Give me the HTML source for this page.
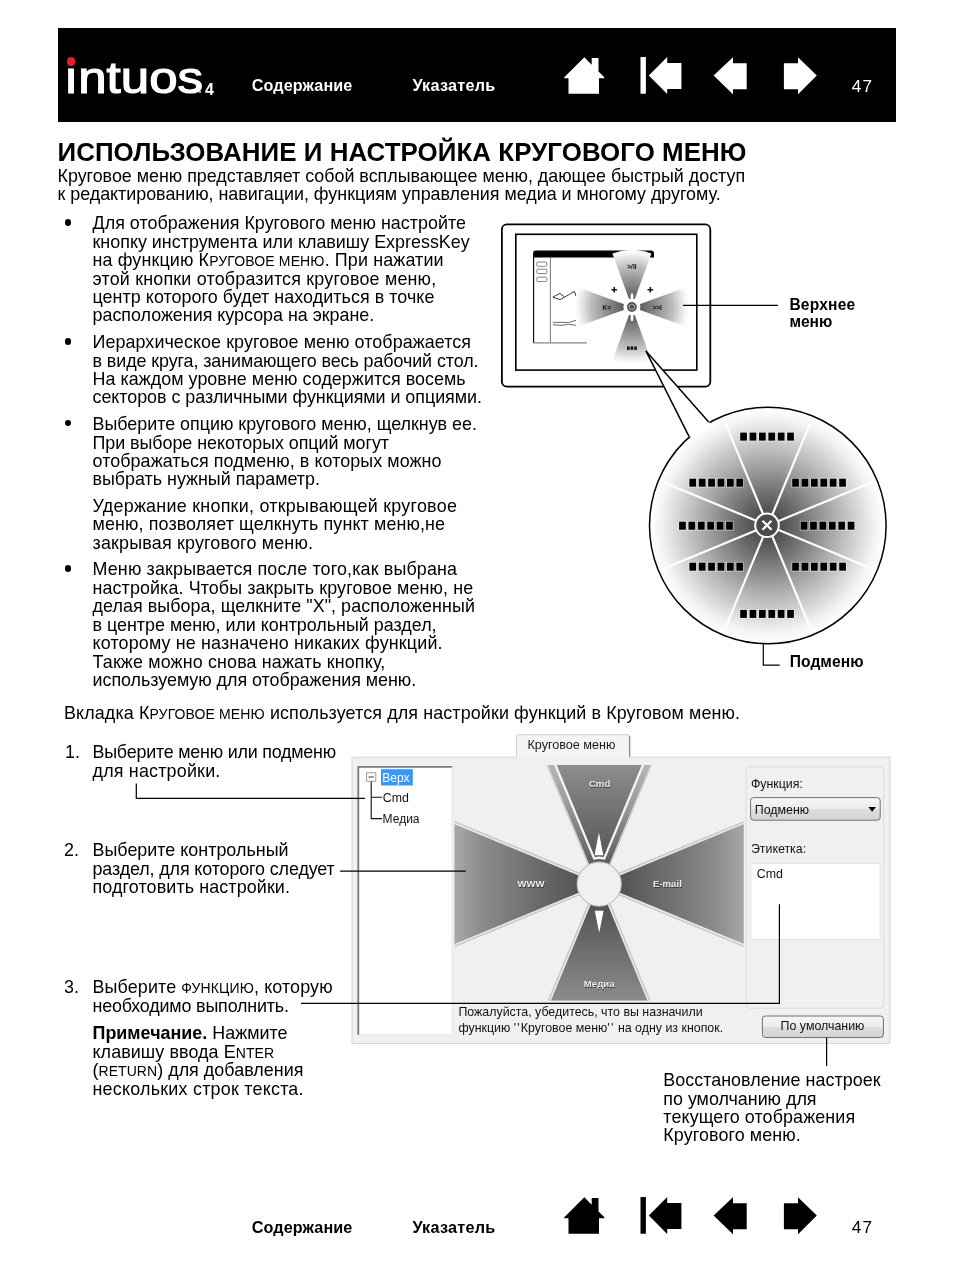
<!DOCTYPE html>
<html><head><meta charset="utf-8">
<style>
html,body{margin:0;padding:0;background:#fff;}
body{width:955px;height:1272px;position:relative;overflow:hidden;font-family:"Liberation Sans",sans-serif;color:#000;}
.t{position:absolute;white-space:nowrap;}
</style></head><body>
<div style="position:absolute;left:0;top:0;width:955px;height:1272px;will-change:transform">
<div style="position:absolute;left:57.5px;top:28px;width:838.5px;height:94px;background:#000"></div>
<svg style="position:absolute;left:0;top:0px;overflow:visible" width="955" height="1"><path fill="#fff" d="M584.3,57.3 L591.7,64.7 L591.7,58.1 L598.5,58.1 L598.5,71.5 L604.3,77.3 L604.3,78.3 L599,78.3 L599,93.7 L568.5,93.7 L568.5,78.3 L564.3,78.3 L564.3,77.3 Z"/><path fill="#fff" d="M640.5,57 h5.4 v36.7 h-5.4 Z M648.8,75.5 L667.2,57 L667.2,62.9 L681.4,62.9 L681.4,88.9 L667.2,88.9 L667.2,94 Z"/><path fill="#fff" d="M713.6,75.6 L733,57.2 L733,63.2 L746.7,63.2 L746.7,89.2 L733,89.2 L733,94.3 Z"/><path fill="#fff" d="M816.8,75.6 L798,57.2 L798,63.2 L783.9,63.2 L783.9,89.2 L798,89.2 L798,94.3 Z"/></svg>
<svg style="position:absolute;left:0;top:1140px;overflow:visible" width="955" height="1"><path fill="#000" d="M584.3,57.3 L591.7,64.7 L591.7,58.1 L598.5,58.1 L598.5,71.5 L604.3,77.3 L604.3,78.3 L599,78.3 L599,93.7 L568.5,93.7 L568.5,78.3 L564.3,78.3 L564.3,77.3 Z"/><path fill="#000" d="M640.5,57 h5.4 v36.7 h-5.4 Z M648.8,75.5 L667.2,57 L667.2,62.9 L681.4,62.9 L681.4,88.9 L667.2,88.9 L667.2,94 Z"/><path fill="#000" d="M713.6,75.6 L733,57.2 L733,63.2 L746.7,63.2 L746.7,89.2 L733,89.2 L733,94.3 Z"/><path fill="#000" d="M816.8,75.6 L798,57.2 L798,63.2 L783.9,63.2 L783.9,89.2 L798,89.2 L798,94.3 Z"/></svg>
<div style="position:absolute;left:66.7px;top:56.9px;width:8.8px;height:8.8px;border-radius:50%;background:#ed1c2a"></div>
<div class="t" style="left:64px;top:48px;font-size:45px;line-height:60px;color:#fff;-webkit-text-stroke:1.2px #fff;transform:scaleX(1.135);transform-origin:0 0">&#305;ntuos</div>
<div style="position:absolute;left:199.2px;top:91.3px;width:2.2px;height:2.2px;background:#bbb"></div>
<div class="t" style="left:205.1px;top:82px;font-size:16px;line-height:16px;font-weight:bold;color:#fff;">4</div>
<div class="t" style="left:251.7px;top:77px;font-size:16.2px;line-height:16.2px;font-weight:bold;letter-spacing:0.100px;color:#fff;">Содержание</div>
<div class="t" style="left:412.4px;top:77px;font-size:16.2px;line-height:16.2px;font-weight:bold;letter-spacing:0.250px;color:#fff;">Указатель</div>
<div class="t" style="left:851.7px;top:78px;font-size:17.2px;line-height:17.2px;letter-spacing:1.300px;color:#fff;">47</div>
<div class="t" style="left:251.7px;top:1219px;font-size:16.2px;line-height:16.2px;font-weight:bold;letter-spacing:0.100px;">Содержание</div>
<div class="t" style="left:412.4px;top:1219px;font-size:16.2px;line-height:16.2px;font-weight:bold;letter-spacing:0.250px;">Указатель</div>
<div class="t" style="left:851.7px;top:1219px;font-size:17.2px;line-height:17.2px;letter-spacing:1.300px;">47</div>
<div class="t" style="left:57.5px;top:140px;font-size:25.9px;line-height:25.9px;font-weight:bold;letter-spacing:0.062px;">ИСПОЛЬЗОВАНИЕ И НАСТРОЙКА КРУГОВОГО МЕНЮ</div>
<div class="t" style="left:57.5px;top:168px;font-size:17.9px;line-height:17.9px;letter-spacing:-0.017px;">Круговое меню представляет собой всплывающее меню, дающее быстрый доступ</div>
<div class="t" style="left:57.5px;top:186px;font-size:17.9px;line-height:17.9px;letter-spacing:-0.018px;">к редактированию, навигации, функциям управления медиа и многому другому.</div>
<div style="position:absolute;left:64.7px;top:219.1px;width:6.6px;height:6.6px;border-radius:50%;background:#000"></div>
<div class="t" style="left:92.5px;top:215px;font-size:17.9px;line-height:17.9px;letter-spacing:0.036px;">Для отображения Кругового меню настройте</div>
<div class="t" style="left:92.5px;top:234px;font-size:17.9px;line-height:17.9px;letter-spacing:0.008px;">кнопку инструмента или клавишу ExpressKey</div>
<div class="t" style="left:92.5px;top:252px;font-size:17.9px;line-height:17.9px;letter-spacing:0.136px;">на функцию К<span style="font-size:14.0px">РУГОВОЕ МЕНЮ</span>. При нажатии</div>
<div class="t" style="left:92.5px;top:271px;font-size:17.9px;line-height:17.9px;letter-spacing:0.200px;">этой кнопки отобразится круговое меню,</div>
<div class="t" style="left:92.5px;top:289px;font-size:17.9px;line-height:17.9px;letter-spacing:0.058px;">центр которого будет находиться в точке</div>
<div class="t" style="left:92.5px;top:307px;font-size:17.9px;line-height:17.9px;letter-spacing:-0.010px;">расположения курсора на экране.</div>
<div style="position:absolute;left:64.7px;top:338.09999999999997px;width:6.6px;height:6.6px;border-radius:50%;background:#000"></div>
<div class="t" style="left:92.5px;top:334px;font-size:17.9px;line-height:17.9px;letter-spacing:0.082px;">Иерархическое круговое меню отображается</div>
<div class="t" style="left:92.5px;top:353px;font-size:17.9px;line-height:17.9px;letter-spacing:-0.081px;">в виде круга, занимающего весь рабочий стол.</div>
<div class="t" style="left:92.5px;top:371px;font-size:17.9px;line-height:17.9px;letter-spacing:0.045px;">На каждом уровне меню содержится восемь</div>
<div class="t" style="left:92.5px;top:389px;font-size:17.9px;line-height:17.9px;letter-spacing:-0.032px;">секторов с различными функциями и опциями.</div>
<div style="position:absolute;left:64.7px;top:419.7px;width:6.6px;height:6.6px;border-radius:50%;background:#000"></div>
<div class="t" style="left:92.5px;top:416px;font-size:17.9px;line-height:17.9px;letter-spacing:-0.005px;">Выберите опцию кругового меню, щелкнув ее.</div>
<div class="t" style="left:92.5px;top:435px;font-size:17.9px;line-height:17.9px;letter-spacing:-0.048px;">При выборе некоторых опций могут</div>
<div class="t" style="left:92.5px;top:453px;font-size:17.9px;line-height:17.9px;letter-spacing:0.081px;">отображаться подменю, в которых можно</div>
<div class="t" style="left:92.5px;top:471px;font-size:17.9px;line-height:17.9px;letter-spacing:-0.009px;">выбрать нужный параметр.</div>
<div class="t" style="left:92.5px;top:498px;font-size:17.9px;line-height:17.9px;letter-spacing:0.268px;">Удержание кнопки, открывающей круговое</div>
<div class="t" style="left:92.5px;top:516px;font-size:17.9px;line-height:17.9px;letter-spacing:0.119px;">меню, позволяет щелкнуть пункт меню,не</div>
<div class="t" style="left:92.5px;top:535px;font-size:17.9px;line-height:17.9px;letter-spacing:0.191px;">закрывая кругового меню.</div>
<div style="position:absolute;left:64.7px;top:565.2px;width:6.6px;height:6.6px;border-radius:50%;background:#000"></div>
<div class="t" style="left:92.5px;top:561px;font-size:17.9px;line-height:17.9px;letter-spacing:0.158px;">Меню закрывается после того,как выбрана</div>
<div class="t" style="left:92.5px;top:580px;font-size:17.9px;line-height:17.9px;letter-spacing:0.105px;">настройка. Чтобы закрыть круговое меню, не</div>
<div class="t" style="left:92.5px;top:598px;font-size:17.9px;line-height:17.9px;letter-spacing:0.067px;">делая выбора, щелкните "X", расположенный</div>
<div class="t" style="left:92.5px;top:617px;font-size:17.9px;line-height:17.9px;">в центре меню, или контрольный раздел,</div>
<div class="t" style="left:92.5px;top:635px;font-size:17.9px;line-height:17.9px;letter-spacing:0.159px;">которому не назначено никаких функций.</div>
<div class="t" style="left:92.5px;top:654px;font-size:17.9px;line-height:17.9px;letter-spacing:0.152px;">Также можно снова нажать кнопку,</div>
<div class="t" style="left:92.5px;top:672px;font-size:17.9px;line-height:17.9px;letter-spacing:-0.027px;">используемую для отображения меню.</div>
<div class="t" style="left:64px;top:705px;font-size:17.9px;line-height:17.9px;letter-spacing:0.124px;">Вкладка К<span style="font-size:14.0px">РУГОВОЕ МЕНЮ</span> используется для настройки функций в Круговом меню.</div>
<div class="t" style="left:65px;top:744px;font-size:17.9px;line-height:17.9px;">1.</div>
<div class="t" style="left:92.5px;top:744px;font-size:17.9px;line-height:17.9px;letter-spacing:-0.213px;">Выберите меню или подменю</div>
<div class="t" style="left:92.5px;top:763px;font-size:17.9px;line-height:17.9px;letter-spacing:0.200px;">для настройки.</div>
<div class="t" style="left:64.1px;top:842px;font-size:17.9px;line-height:17.9px;">2.</div>
<div class="t" style="left:92.5px;top:842px;font-size:17.9px;line-height:17.9px;letter-spacing:0.016px;">Выберите контрольный</div>
<div class="t" style="left:92.5px;top:861px;font-size:17.9px;line-height:17.9px;letter-spacing:-0.115px;">раздел, для которого следует</div>
<div class="t" style="left:92.5px;top:879px;font-size:17.9px;line-height:17.9px;letter-spacing:0.119px;">подготовить настройки.</div>
<div class="t" style="left:64px;top:979px;font-size:17.9px;line-height:17.9px;">3.</div>
<div class="t" style="left:92.5px;top:979px;font-size:17.9px;line-height:17.9px;letter-spacing:0.129px;">Выберите <span style="font-size:14.0px">ФУНКЦИЮ</span>, которую</div>
<div class="t" style="left:92.5px;top:998px;font-size:17.9px;line-height:17.9px;letter-spacing:-0.165px;">необходимо выполнить.</div>
<div class="t" style="left:92.5px;top:1025px;font-size:17.9px;line-height:17.9px;letter-spacing:0.022px;"><b>Примечание.</b> Нажмите</div>
<div class="t" style="left:92.5px;top:1044px;font-size:17.9px;line-height:17.9px;letter-spacing:0.089px;">клавишу ввода E<span style="font-size:14.0px">NTER</span></div>
<div class="t" style="left:92.5px;top:1062px;font-size:17.9px;line-height:17.9px;letter-spacing:0.045px;">(<span style="font-size:14.0px">RETURN</span>) для добавления</div>
<div class="t" style="left:92.5px;top:1081px;font-size:17.9px;line-height:17.9px;letter-spacing:0.239px;">нескольких строк текста.</div>
<div class="t" style="left:789.4px;top:297px;font-size:15.6px;line-height:15.6px;font-weight:bold;letter-spacing:0.200px;">Верхнее</div>
<div class="t" style="left:789.4px;top:314px;font-size:15.6px;line-height:15.6px;font-weight:bold;">меню</div>
<div class="t" style="left:789.7px;top:654px;font-size:15.6px;line-height:15.6px;font-weight:bold;letter-spacing:0.083px;">Подменю</div>
<div class="t" style="left:663.3px;top:1072px;font-size:17.9px;line-height:17.9px;letter-spacing:0.032px;">Восстановление настроек</div>
<div class="t" style="left:663.3px;top:1091px;font-size:17.9px;line-height:17.9px;letter-spacing:-0.007px;">по умолчанию для</div>
<div class="t" style="left:663.3px;top:1109px;font-size:17.9px;line-height:17.9px;letter-spacing:0.121px;">текущего отображения</div>
<div class="t" style="left:663.3px;top:1127px;font-size:17.9px;line-height:17.9px;letter-spacing:0.100px;">Кругового меню.</div>

<svg style="position:absolute;left:0;top:0" width="955" height="1272" viewBox="0 0 955 1272">
<defs>
  <radialGradient id="bigGrad" cx="767.8" cy="525.5" r="118" gradientUnits="userSpaceOnUse">
    <stop offset="0" stop-color="#3a3a3a"/>
    <stop offset="0.25" stop-color="#6a6a6a"/>
    <stop offset="0.6" stop-color="#b4b4b4"/>
    <stop offset="0.9" stop-color="#f2f2f2"/>
    <stop offset="1" stop-color="#ffffff"/>
  </radialGradient>
  <radialGradient id="miniGrad" cx="631.9" cy="307" r="58" gradientUnits="userSpaceOnUse">
    <stop offset="0" stop-color="#444"/>
    <stop offset="0.2" stop-color="#666"/>
    <stop offset="0.7" stop-color="#bdbdbd"/>
    <stop offset="0.92" stop-color="#f4f4f4"/>
    <stop offset="1" stop-color="#fff"/>
  </radialGradient>
  <linearGradient id="wTop" x1="0" y1="765" x2="0" y2="862" gradientUnits="userSpaceOnUse">
    <stop offset="0" stop-color="#8e8e8e"/><stop offset="1" stop-color="#555"/>
  </linearGradient>
  <linearGradient id="wBot" x1="0" y1="1001" x2="0" y2="906" gradientUnits="userSpaceOnUse">
    <stop offset="0" stop-color="#8e8e8e"/><stop offset="1" stop-color="#555"/>
  </linearGradient>
  <linearGradient id="wLeft" x1="454" y1="0" x2="577" y2="0" gradientUnits="userSpaceOnUse">
    <stop offset="0" stop-color="#a8a8a8"/><stop offset="1" stop-color="#555"/>
  </linearGradient>
  <linearGradient id="wRight" x1="744" y1="0" x2="621" y2="0" gradientUnits="userSpaceOnUse">
    <stop offset="0" stop-color="#a8a8a8"/><stop offset="1" stop-color="#555"/>
  </linearGradient>
  <linearGradient id="btnGrad" x1="0" y1="0" x2="0" y2="1">
    <stop offset="0" stop-color="#f6f6f6"/><stop offset="0.5" stop-color="#ececec"/><stop offset="0.51" stop-color="#dedede"/><stop offset="1" stop-color="#d4d4d4"/>
  </linearGradient>
  <clipPath id="starClip"><rect x="454.5" y="765" width="289.2" height="235.5"/></clipPath>
  <clipPath id="screenClip"><rect x="516.5" y="235" width="180" height="134"/></clipPath>
</defs>

<!-- ===== monitor ===== -->
<rect x="501.9" y="224.4" width="208.4" height="162.2" rx="5" ry="5" fill="#fff" stroke="#000" stroke-width="1.8"/>
<rect x="515.8" y="234.3" width="181" height="135.8" fill="#fff" stroke="#000" stroke-width="1.6"/>
<g clip-path="url(#screenClip)">
  <!-- window -->
  <path d="M533.1,257.6 L533.1,253 Q533.1,250.4 535.6,250.4 L651,250.4 Q654,250.4 654,253.3 L654,257.6 Z" fill="#000"/>
  <line x1="533.6" y1="257" x2="533.6" y2="343" stroke="#000" stroke-width="1.1"/>
  <line x1="550.4" y1="257" x2="550.4" y2="343" stroke="#777" stroke-width="1"/>
  <line x1="533.6" y1="342.8" x2="587" y2="342.8" stroke="#888" stroke-width="1.3"/>
  <rect x="536.8" y="262" width="10" height="4.3" rx="1" fill="none" stroke="#777" stroke-width="0.9"/>
  <rect x="536.8" y="269.2" width="10" height="4.3" rx="1" fill="none" stroke="#777" stroke-width="0.9"/>
  <rect x="536.8" y="277.2" width="10" height="4.3" rx="1" fill="none" stroke="#777" stroke-width="0.9"/>
  <polyline points="552.9,297 560,293.4 564.5,297.2 570.4,293.7 574.4,291.5 576,296" fill="none" stroke="#222" stroke-width="0.9"/>
  <polyline points="552.9,297.2 560,299.6 564.5,297.2" fill="none" stroke="#222" stroke-width="0.9"/>
  <polyline points="552.9,322.3 568.5,322.5 576,320.4" fill="none" stroke="#444" stroke-width="0.8"/>
  <polyline points="552.9,324.8 562.8,325.3 568.5,324.2 576,325.3" fill="none" stroke="#444" stroke-width="0.8"/>
  <!-- mini radial wedges (sector radius 57, ±20deg) -->
  <g fill="url(#miniGrad)">
    <path d="M631.9,307 L612.4,253.4 A57,57 0 0 1 651.4,253.4 Z"/>
    <path d="M631.9,307 L612.4,360.6 A57,57 0 0 0 651.4,360.6 Z"/>
    <path d="M631.9,307 L578.3,287.5 A57,57 0 0 0 578.3,326.5 Z"/>
    <path d="M631.9,307 L685.5,287.5 A57,57 0 0 1 685.5,326.5 Z"/>
  </g>
  <circle cx="631.9" cy="307" r="8.5" fill="#fff"/>
  <circle cx="631.9" cy="307" r="4.9" fill="#555"/>
  <circle cx="631.9" cy="307" r="2.8" fill="none" stroke="#bbb" stroke-width="0.8"/>
  <ellipse cx="632" cy="296.8" rx="1.4" ry="3.6" fill="#fff"/>
  <ellipse cx="632" cy="317.4" rx="1.4" ry="3.6" fill="#fff"/>
  <text x="631.9" y="268.5" font-family="Liberation Sans" font-size="6.5" font-weight="bold" text-anchor="middle" fill="#111">&gt;/II</text>
  <text x="606.8" y="310" font-family="Liberation Sans" font-size="6.5" font-weight="bold" text-anchor="middle" fill="#111">K&lt;</text>
  <text x="657.1" y="310" font-family="Liberation Sans" font-size="6.5" font-weight="bold" text-anchor="middle" fill="#111">&gt;&gt;I</text>
  <rect x="627" y="346.5" width="2.6" height="3.4" fill="#111"/><rect x="630.6" y="346.5" width="2.6" height="3.4" fill="#111"/><rect x="634.2" y="346.5" width="2.6" height="3.4" fill="#111"/>
  <path d="M611.4,289.7 h5.6 M614.2,286.9 v5.6" stroke="#111" stroke-width="1.5"/>
  <path d="M647.5,289.7 h5.6 M650.3,286.9 v5.6" stroke="#111" stroke-width="1.5"/>
</g>
<!-- leader Верхнее меню -->
<line x1="683" y1="305.3" x2="778" y2="305.3" stroke="#000" stroke-width="1.2"/>

<!-- ===== big circle ===== -->
<circle cx="767.8" cy="525.5" r="118.3" fill="url(#bigGrad)" stroke="#000" stroke-width="1.5"/>
<!-- tail -->
<path d="M689,436.3 L645.9,350.9 L708.7,422 L712,424.5 L704,430 L694,438 Z" fill="#fff"/>
<polyline points="689,436.3 645.9,350.9 708.7,422" fill="none" stroke="#000" stroke-width="1.5"/>
<!-- spokes -->
<g stroke="#fff" stroke-width="2.1" stroke-linecap="round">
  <line x1="767.8" y1="525.5" x2="810.3" y2="422.9"/>
  <line x1="767.8" y1="525.5" x2="870.4" y2="483.0"/>
  <line x1="767.8" y1="525.5" x2="870.4" y2="568.0"/>
  <line x1="767.8" y1="525.5" x2="810.3" y2="628.1"/>
  <line x1="767.8" y1="525.5" x2="725.3" y2="628.1"/>
  <line x1="767.8" y1="525.5" x2="665.2" y2="568.0"/>
  <line x1="767.8" y1="525.5" x2="665.2" y2="483.0"/>
  <line x1="767.8" y1="525.5" x2="725.3" y2="422.9"/>
</g>
<circle cx="767" cy="525.3" r="11.8" fill="#4a4a4a" stroke="#fff" stroke-width="2"/>
<path d="M762.5,520.8 L771.5,529.8 M771.5,520.8 L762.5,529.8" stroke="#fff" stroke-width="2.2"/>
<!-- squares -->
<g fill="#000" id="sq">
<rect x="739.30" y="431.70" width="8.4" height="9.8" fill="#fff" opacity="0.45"/><rect x="740.20" y="432.60" width="6.7" height="8.0"/><rect x="748.70" y="431.70" width="8.4" height="9.8" fill="#fff" opacity="0.45"/><rect x="749.60" y="432.60" width="6.7" height="8.0"/><rect x="758.10" y="431.70" width="8.4" height="9.8" fill="#fff" opacity="0.45"/><rect x="759.00" y="432.60" width="6.7" height="8.0"/><rect x="767.50" y="431.70" width="8.4" height="9.8" fill="#fff" opacity="0.45"/><rect x="768.40" y="432.60" width="6.7" height="8.0"/><rect x="776.90" y="431.70" width="8.4" height="9.8" fill="#fff" opacity="0.45"/><rect x="777.80" y="432.60" width="6.7" height="8.0"/><rect x="786.30" y="431.70" width="8.4" height="9.8" fill="#fff" opacity="0.45"/><rect x="787.20" y="432.60" width="6.7" height="8.0"/><rect x="688.50" y="477.80" width="8.4" height="9.8" fill="#fff" opacity="0.45"/><rect x="689.40" y="478.70" width="6.7" height="8.0"/><rect x="697.90" y="477.80" width="8.4" height="9.8" fill="#fff" opacity="0.45"/><rect x="698.80" y="478.70" width="6.7" height="8.0"/><rect x="707.30" y="477.80" width="8.4" height="9.8" fill="#fff" opacity="0.45"/><rect x="708.20" y="478.70" width="6.7" height="8.0"/><rect x="716.70" y="477.80" width="8.4" height="9.8" fill="#fff" opacity="0.45"/><rect x="717.60" y="478.70" width="6.7" height="8.0"/><rect x="726.10" y="477.80" width="8.4" height="9.8" fill="#fff" opacity="0.45"/><rect x="727.00" y="478.70" width="6.7" height="8.0"/><rect x="735.50" y="477.80" width="8.4" height="9.8" fill="#fff" opacity="0.45"/><rect x="736.40" y="478.70" width="6.7" height="8.0"/><rect x="791.30" y="477.80" width="8.4" height="9.8" fill="#fff" opacity="0.45"/><rect x="792.20" y="478.70" width="6.7" height="8.0"/><rect x="800.70" y="477.80" width="8.4" height="9.8" fill="#fff" opacity="0.45"/><rect x="801.60" y="478.70" width="6.7" height="8.0"/><rect x="810.10" y="477.80" width="8.4" height="9.8" fill="#fff" opacity="0.45"/><rect x="811.00" y="478.70" width="6.7" height="8.0"/><rect x="819.50" y="477.80" width="8.4" height="9.8" fill="#fff" opacity="0.45"/><rect x="820.40" y="478.70" width="6.7" height="8.0"/><rect x="828.90" y="477.80" width="8.4" height="9.8" fill="#fff" opacity="0.45"/><rect x="829.80" y="478.70" width="6.7" height="8.0"/><rect x="838.30" y="477.80" width="8.4" height="9.8" fill="#fff" opacity="0.45"/><rect x="839.20" y="478.70" width="6.7" height="8.0"/><rect x="678.20" y="520.80" width="8.4" height="9.8" fill="#fff" opacity="0.45"/><rect x="679.10" y="521.70" width="6.7" height="8.0"/><rect x="687.60" y="520.80" width="8.4" height="9.8" fill="#fff" opacity="0.45"/><rect x="688.50" y="521.70" width="6.7" height="8.0"/><rect x="697.00" y="520.80" width="8.4" height="9.8" fill="#fff" opacity="0.45"/><rect x="697.90" y="521.70" width="6.7" height="8.0"/><rect x="706.40" y="520.80" width="8.4" height="9.8" fill="#fff" opacity="0.45"/><rect x="707.30" y="521.70" width="6.7" height="8.0"/><rect x="715.80" y="520.80" width="8.4" height="9.8" fill="#fff" opacity="0.45"/><rect x="716.70" y="521.70" width="6.7" height="8.0"/><rect x="725.20" y="520.80" width="8.4" height="9.8" fill="#fff" opacity="0.45"/><rect x="726.10" y="521.70" width="6.7" height="8.0"/><rect x="799.80" y="520.80" width="8.4" height="9.8" fill="#fff" opacity="0.45"/><rect x="800.70" y="521.70" width="6.7" height="8.0"/><rect x="809.20" y="520.80" width="8.4" height="9.8" fill="#fff" opacity="0.45"/><rect x="810.10" y="521.70" width="6.7" height="8.0"/><rect x="818.60" y="520.80" width="8.4" height="9.8" fill="#fff" opacity="0.45"/><rect x="819.50" y="521.70" width="6.7" height="8.0"/><rect x="828.00" y="520.80" width="8.4" height="9.8" fill="#fff" opacity="0.45"/><rect x="828.90" y="521.70" width="6.7" height="8.0"/><rect x="837.40" y="520.80" width="8.4" height="9.8" fill="#fff" opacity="0.45"/><rect x="838.30" y="521.70" width="6.7" height="8.0"/><rect x="846.80" y="520.80" width="8.4" height="9.8" fill="#fff" opacity="0.45"/><rect x="847.70" y="521.70" width="6.7" height="8.0"/><rect x="688.50" y="561.80" width="8.4" height="9.8" fill="#fff" opacity="0.45"/><rect x="689.40" y="562.70" width="6.7" height="8.0"/><rect x="697.90" y="561.80" width="8.4" height="9.8" fill="#fff" opacity="0.45"/><rect x="698.80" y="562.70" width="6.7" height="8.0"/><rect x="707.30" y="561.80" width="8.4" height="9.8" fill="#fff" opacity="0.45"/><rect x="708.20" y="562.70" width="6.7" height="8.0"/><rect x="716.70" y="561.80" width="8.4" height="9.8" fill="#fff" opacity="0.45"/><rect x="717.60" y="562.70" width="6.7" height="8.0"/><rect x="726.10" y="561.80" width="8.4" height="9.8" fill="#fff" opacity="0.45"/><rect x="727.00" y="562.70" width="6.7" height="8.0"/><rect x="735.50" y="561.80" width="8.4" height="9.8" fill="#fff" opacity="0.45"/><rect x="736.40" y="562.70" width="6.7" height="8.0"/><rect x="791.30" y="561.80" width="8.4" height="9.8" fill="#fff" opacity="0.45"/><rect x="792.20" y="562.70" width="6.7" height="8.0"/><rect x="800.70" y="561.80" width="8.4" height="9.8" fill="#fff" opacity="0.45"/><rect x="801.60" y="562.70" width="6.7" height="8.0"/><rect x="810.10" y="561.80" width="8.4" height="9.8" fill="#fff" opacity="0.45"/><rect x="811.00" y="562.70" width="6.7" height="8.0"/><rect x="819.50" y="561.80" width="8.4" height="9.8" fill="#fff" opacity="0.45"/><rect x="820.40" y="562.70" width="6.7" height="8.0"/><rect x="828.90" y="561.80" width="8.4" height="9.8" fill="#fff" opacity="0.45"/><rect x="829.80" y="562.70" width="6.7" height="8.0"/><rect x="838.30" y="561.80" width="8.4" height="9.8" fill="#fff" opacity="0.45"/><rect x="839.20" y="562.70" width="6.7" height="8.0"/><rect x="739.30" y="609.00" width="8.4" height="9.8" fill="#fff" opacity="0.45"/><rect x="740.20" y="609.90" width="6.7" height="8.0"/><rect x="748.70" y="609.00" width="8.4" height="9.8" fill="#fff" opacity="0.45"/><rect x="749.60" y="609.90" width="6.7" height="8.0"/><rect x="758.10" y="609.00" width="8.4" height="9.8" fill="#fff" opacity="0.45"/><rect x="759.00" y="609.90" width="6.7" height="8.0"/><rect x="767.50" y="609.00" width="8.4" height="9.8" fill="#fff" opacity="0.45"/><rect x="768.40" y="609.90" width="6.7" height="8.0"/><rect x="776.90" y="609.00" width="8.4" height="9.8" fill="#fff" opacity="0.45"/><rect x="777.80" y="609.90" width="6.7" height="8.0"/><rect x="786.30" y="609.00" width="8.4" height="9.8" fill="#fff" opacity="0.45"/><rect x="787.20" y="609.90" width="6.7" height="8.0"/>
</g>
<!-- leader Подменю -->
<polyline points="763.3,644 763.3,665.2 779.7,665.2" fill="none" stroke="#000" stroke-width="1.2"/>

<!-- ===== dialog ===== -->
<path d="M516.5,757.5 L516.5,736 Q516.5,734.7 518,734.7 L628.5,734.7 Q629.6,734.7 629.6,736 L629.6,757.5" fill="#f4f4f4" stroke="#d0d0d0" stroke-width="1"/>
<line x1="629.6" y1="736" x2="629.6" y2="757.5" stroke="#8a8a8a" stroke-width="1.3"/>
<rect x="352" y="757.2" width="538" height="286.2" fill="#f0f0f0" stroke="#d4d4d4" stroke-width="1"/>
<rect x="516.8" y="756" width="112.3" height="3" fill="#f0f0f0"/>
<text x="527.5" y="748.6" font-family="Liberation Sans" font-size="12.6" fill="#1a1a1a">Круговое меню</text>
<!-- tree box -->
<rect x="358.1" y="766.2" width="94.5" height="268.8" fill="#fff"/>
<path d="M358.3,1035 L358.3,766.8 L452.4,766.8" fill="none" stroke="#7a7a7a" stroke-width="1.8"/>
<path d="M452.2,767 L452.2,1035 L358.5,1035" fill="none" stroke="#e3e3e3" stroke-width="1"/>
<rect x="366.6" y="772.8" width="9.2" height="8.5" fill="#fff" stroke="#9a9a9a" stroke-width="1"/>
<line x1="368.6" y1="777" x2="373.8" y2="777" stroke="#333" stroke-width="1"/>
<rect x="381" y="769.2" width="31.8" height="16.3" fill="#3399ff"/>
<text x="382.3" y="782" font-family="Liberation Sans" font-size="12" fill="#fff">Верх</text>
<path d="M371.2,781.5 L371.2,818.6 L382,818.6 M371.2,797.2 L382,797.2" fill="none" stroke="#111" stroke-width="1.1"/>
<text x="382.8" y="801.6" font-family="Liberation Sans" font-size="12.4" fill="#111">Cmd</text>
<text x="382.6" y="822.5" font-family="Liberation Sans" font-size="12" fill="#111">Медиа</text>
<!-- star -->
<defs>
  <linearGradient id="sgBand" x1="0" y1="862.1" x2="0" y2="759.1" gradientUnits="userSpaceOnUse">
    <stop offset="0" stop-color="#5e5e5e"/><stop offset="0.55" stop-color="#999"/><stop offset="1" stop-color="#bababa"/>
  </linearGradient>
  <linearGradient id="sgFill" x1="0" y1="862.1" x2="0" y2="739.1" gradientUnits="userSpaceOnUse">
    <stop offset="0" stop-color="#545454"/><stop offset="0.78" stop-color="#8c8c8c"/><stop offset="1" stop-color="#a8a8a8"/>
  </linearGradient>
  <g id="wedgeB">
    <path d="M588.47,866.05 L525.54,714.10 L672.86,714.10 L609.93,866.05 A21,21 0 0 0 588.47,866.05 Z" fill="#c8c8c8"/>
    <path d="M589.80,865.32 L527.16,714.10 L671.24,714.10 L608.60,865.32 A21,21 0 0 0 589.80,865.32 Z" fill="#ebebeb"/>
    <path d="M591.16,864.70 L528.78,714.10 L669.62,714.10 L607.24,864.70 A21,21 0 0 0 591.16,864.70 Z" fill="url(#sgFill)"/>
  </g>
  <g id="wedgeT">
    <path d="M588.30,866.15 L525.32,714.10 L673.08,714.10 L610.10,866.15 A21,21 0 0 0 588.30,866.15 Z" fill="#cdcdcd"/>
    <path d="M589.71,865.37 L527.05,714.10 L671.35,714.10 L608.69,865.37 A21,21 0 0 0 589.71,865.37 Z" fill="url(#sgBand)"/>
    <path d="M593.45,859.77 L533.11,714.10 L665.29,714.10 L604.95,859.77 A25,25 0 0 0 593.45,859.77 Z" fill="#f4f4f4"/>
    <path d="M594.78,856.96 L535.60,714.10 L662.80,714.10 L603.62,856.96 A27.5,27.5 0 0 0 594.78,856.96 Z" fill="url(#sgFill)"/>
  </g>
</defs>
<g clip-path="url(#starClip)">
  <use href="#wedgeT"/>
  <use href="#wedgeB" transform="rotate(180 599.2 884.1)"/>
  <use href="#wedgeB" transform="rotate(-90 599.2 884.1)"/>
  <use href="#wedgeB" transform="rotate(90 599.2 884.1)"/>
</g>
<circle cx="599.2" cy="884.1" r="22" fill="#f0f0f0" stroke="#c4c4c4" stroke-width="1.2"/>
<path d="M598.9,832.6 L603.3,855.3 L594.5,855.3 Z" fill="#fff"/>
<path d="M599.2,932.8 L603.6,910.8 L594.8,910.8 Z" fill="#fff"/>
<g font-family="Liberation Sans" font-size="9.6" font-weight="bold" text-anchor="middle">
  <text x="600" y="787.5" fill="#333">Cmd</text><text x="599.6" y="786.7" fill="#eee">Cmd</text>
  <text x="531.5" y="887.8" fill="#333">WWW</text><text x="531" y="887" fill="#eee">WWW</text>
  <text x="667.8" y="887.8" fill="#333">E-mail</text><text x="667.4" y="887" fill="#eee">E-mail</text>
  <text x="599.6" y="987.8" fill="#333">Медиа</text><text x="599.2" y="987" fill="#eee">Медиа</text>
</g>
<!-- group box right -->
<rect x="746.2" y="767" width="137.5" height="241.2" rx="3" fill="none" stroke="#d5dde2" stroke-width="1"/>
<text x="750.9" y="787.7" font-family="Liberation Sans" font-size="12.4" fill="#111">Функция:</text>
<rect x="750.6" y="797.6" width="129.6" height="22.6" rx="3" fill="url(#btnGrad)" stroke="#707070" stroke-width="1"/>
<text x="754.8" y="813.7" font-family="Liberation Sans" font-size="12.4" fill="#111">Подменю</text>
<path d="M868.4,807 L875.9,807 L872.15,811.7 Z" fill="#000"/>
<text x="750.9" y="853" font-family="Liberation Sans" font-size="12.4" fill="#111">Этикетка:</text>
<rect x="750.8" y="863.3" width="129.2" height="76.2" fill="#fff" stroke="#e2e2e2" stroke-width="1"/>
<text x="756.8" y="878.2" font-family="Liberation Sans" font-size="12.4" fill="#111">Cmd</text>
<!-- note text -->
<text x="458.4" y="1016.4" font-family="Liberation Sans" font-size="12.4" fill="#111">Пожалуйста, убедитесь, что вы назначили</text>
<text x="458.4" y="1032.2" font-family="Liberation Sans" font-size="12.4" fill="#111">функцию <tspan letter-spacing="1.2">''</tspan>Круговое меню<tspan letter-spacing="1.2">''</tspan> на одну из кнопок.</text>
<!-- button -->
<rect x="762.4" y="1016" width="121" height="21.5" rx="3" fill="url(#btnGrad)" stroke="#707070" stroke-width="1"/>
<text x="822.5" y="1030.2" font-family="Liberation Sans" font-size="12.4" fill="#111" text-anchor="middle">По умолчанию</text>

<!-- leaders dialog -->
<polyline points="136.3,783.6 136.3,798.3 365,798.3" fill="none" stroke="#000" stroke-width="1.2"/>
<line x1="340.1" y1="871.1" x2="465.8" y2="871.1" stroke="#000" stroke-width="1.2"/>
<polyline points="301,1003.4 779.4,1003.4 779.4,904.3" fill="none" stroke="#000" stroke-width="1.2"/>
<line x1="826.6" y1="1037.5" x2="826.6" y2="1066" stroke="#000" stroke-width="1.2"/>
</svg>

</div>
</body></html>
